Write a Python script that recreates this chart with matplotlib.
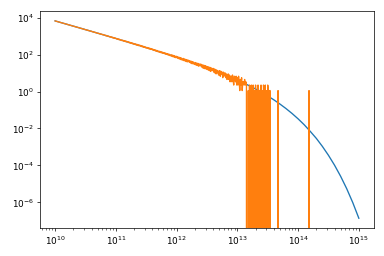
import numpy as np
import matplotlib
matplotlib.use("Agg")
import matplotlib.pyplot as plt

# smooth model curve (blue)
blue_x = [1e10, 3.16e10, 1e11, 3.16e11, 1e12, 3.16e12, 1e13, 1.26e13, 1.58e13,
          2.0e13, 2.51e13, 3.16e13, 3.98e13, 5.01e13, 6.31e13, 7.94e13, 1e14,
          1.26e14, 1.58e14, 2.0e14, 2.51e14, 3.16e14, 3.98e14, 5.01e14,
          6.31e14, 7.94e14, 1e15]
blue_y = [6.64e3, 2.24e3, 743, 239, 72.4, 19.5, 4.19, 2.94, 2.03, 1.37, 0.90,
          0.575, 0.356, 0.211, 0.120, 0.065, 0.0332, 0.0159, 7.06e-3, 2.88e-3,
          1.07e-3, 3.53e-4, 1.03e-4, 2.59e-5, 5.52e-6, 9.75e-7, 1.38e-7]

# binned counts (orange), one bin per 0.01 dex from 1e10 to 10**14.19
orange_counts = [
    5950, 5741, 5702, 5498, 5460, 5251, 5233, 5046, 5021, 4830,
    4730, 4701, 4518, 4497, 4322, 4310, 4150, 4133, 3968, 3955,
    3880, 3712, 3701, 3552, 3560, 3401, 3395, 3262, 3251, 3120,
    3061, 3065, 2921, 2930, 2790, 2803, 2676, 2690, 2561, 2570,
    2512, 2398, 2405, 2290, 2311, 2190, 2201, 2102, 2118, 2005,
    1970, 1988, 1873, 1901, 1795, 1820, 1719, 1741, 1650, 1662,
    1631, 1540, 1562, 1470, 1498, 1409, 1433, 1351, 1372, 1290,
    1265, 1287, 1210, 1229, 1150, 1178, 1102, 1127, 1058, 1079,
    1055, 987, 1012, 941, 970, 901, 927, 862, 889, 826,
    811, 834, 770, 799, 733, 765, 702, 736, 671, 698,
    679, 630, 651, 598, 627, 571, 600, 549, 575, 524,
    513, 539, 489, 516, 466, 493, 447, 475, 427, 451,
    441, 398, 420, 380, 403, 361, 385, 346, 370, 331,
    322, 345, 308, 331, 292, 317, 281, 302, 267, 289,
    281, 250, 270, 238, 259, 226, 247, 217, 236, 207,
    204, 219, 195, 211, 184, 201, 176, 192, 168, 184,
    178, 157, 170, 149, 163, 141, 155, 134, 148, 129,
    126, 138, 119, 131, 113, 126, 108, 120, 103, 114,
    112, 96, 107, 91, 102, 87, 97, 83, 93, 79,
    77, 88, 72, 84, 68, 80, 65, 76, 61, 71,
    71, 58, 67, 54, 64, 51, 61, 48, 58, 45,
    45, 55, 42, 52, 40, 49, 37, 47, 36, 44,
    43, 34, 41, 31, 39, 29, 37, 28, 35, 27,
    26, 33, 24, 31, 23, 30, 21, 28, 22, 27,
    27, 19, 25, 17, 24, 16, 23, 15, 22, 16,
    14, 20, 13, 19, 12, 18, 11, 17, 12, 15,
    16, 10, 15, 9, 14, 8, 13, 9, 12, 7,
    7, 12, 6, 11, 8, 10, 5, 10, 6, 9,
    9, 5, 8, 4, 7, 8, 4, 7, 3, 6,
    6, 3, 7, 4, 2, 6, 5, 3, 6, 2,
    5, 2, 6, 3, 1, 4, 2, 5, 1, 3,
    3, 2, 4, 2, 3, 2, 0, 0, 1, 0,
    2, 0, 1, 2, 0, 0, 2, 0, 1, 0,
    2, 0, 1, 0, 2, 1, 0, 1, 0, 2,
    0, 1, 0, 2, 1, 0, 2, 0, 1, 0,
    2, 1, 0, 1, 1, 0, 0, 0, 0, 0,
    0, 0, 0, 0, 0, 0, 0, 1, 0, 0,
    0, 0, 0, 0, 0, 0, 0, 0, 0, 0,
    0, 0, 0, 0, 0, 0, 0, 0, 0, 0,
    0, 0, 0, 0, 0, 0, 0, 0, 0, 0,
    0, 0, 0, 0, 0, 0, 0, 0, 0, 0,
    0, 0, 0, 0, 0, 0, 0, 0, 1, 0,
]
count_unit = 1.12  # height of a single count on the y axis

orange_x = np.logspace(10, 14.19, len(orange_counts))
orange_y = np.array(orange_counts) * count_unit

fig = plt.figure(figsize=(6, 4), dpi=64)
ax = fig.add_axes([0.104, 0.109, 0.870, 0.848])
ax.loglog(blue_x, blue_y)
ax.loglog(orange_x, orange_y)

fig.savefig("out.png", dpi=64)
